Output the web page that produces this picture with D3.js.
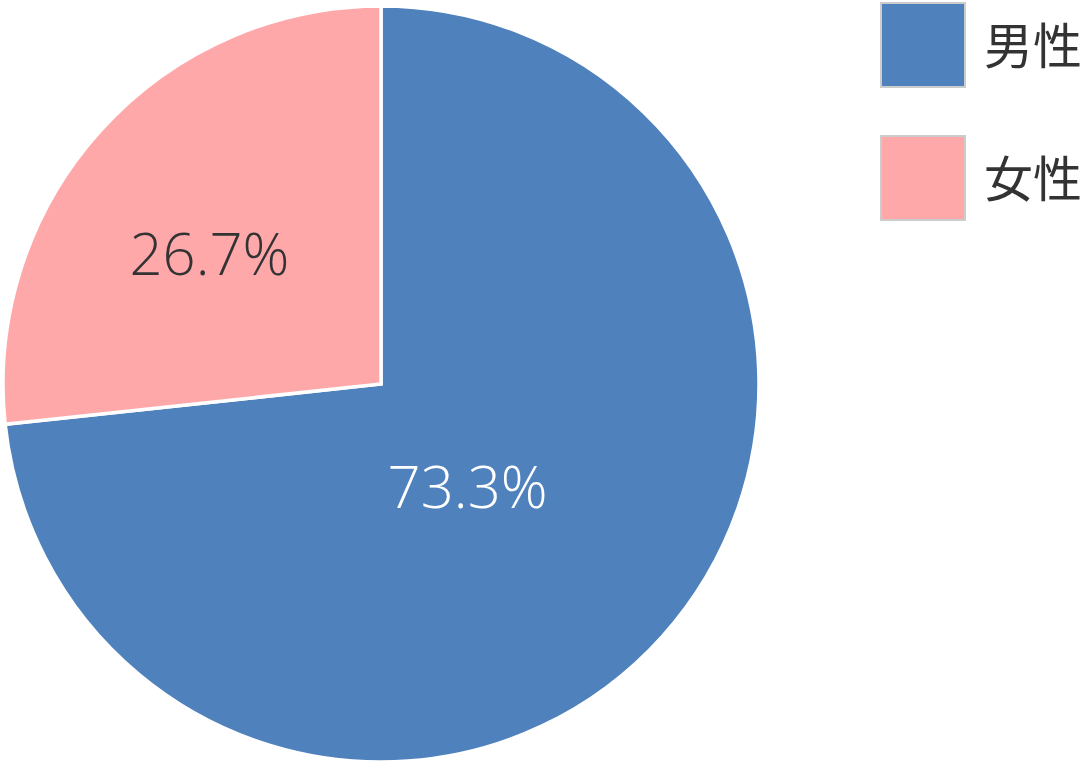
<!DOCTYPE html>
<html>
<head>
<meta charset="utf-8">
<script src="https://cdn.jsdelivr.net/npm/d3@7"></script>
<style>
  html, body { margin: 0; padding: 0; background: #ffffff; }
  svg { display: block; }
</style>
</head>
<body>
<svg id="chart" width="1083" height="767"></svg>
<script>
const categories = ["男性", "女性"];
const values = [73.3, 26.7];
const labels = ["73.3%", "26.7%"];
const colors = ["#4F81BD", "#FFA8AA"];
const labelColors = ["#ffffff", "#333333"];

const svg = d3.select("#chart");
const cx = 381, cy = 384, radius = 378;

const pie = d3.pie().sort(null).value(d => d)
  .startAngle(0).endAngle(2 * Math.PI);
const arcs = pie(values);
const arc = d3.arc().innerRadius(0).outerRadius(radius);

const g = svg.append("g").attr("transform", `translate(${cx},${cy})`);

g.selectAll("path.slice")
  .data(arcs)
  .enter().append("path")
  .attr("class", "slice")
  .attr("d", arc)
  .attr("fill", (d, i) => colors[i])
  .attr("stroke", "#ffffff")
  .attr("stroke-width", 3.5)
  .attr("stroke-linejoin", "miter");

// label placement: arc centroid at half radius, with small nudges
const labelArc = d3.arc().innerRadius(radius * 0.5).outerRadius(radius * 0.5);
const nudge = [[-54, -23], [-31, -4]];
g.selectAll("text.lbl")
  .data(arcs)
  .enter().append("text")
  .attr("class", "lbl")
  .attr("transform", (d, i) => {
    const c = labelArc.centroid(d);
    return `translate(${c[0] + nudge[i][0]},${c[1] + nudge[i][1]})`;
  })
  .attr("text-anchor", "middle")
  .attr("dy", "0.36em")
  .attr("font-family", "'Open Sans', 'Noto Sans', sans-serif")
  .attr("font-weight", 350)
  .attr("font-size", 58)
  .attr("fill", (d, i) => labelColors[i])
  .text((d, i) => labels[i]);

// legend
const legend = svg.append("g");
const items = legend.selectAll("g.item")
  .data(categories)
  .enter().append("g")
  .attr("class", "item")
  .attr("transform", (d, i) => `translate(881,${3 + i * 133})`);

items.append("rect")
  .attr("width", 84)
  .attr("height", 84)
  .attr("fill", (d, i) => colors[i])
  .attr("stroke", "#cccccc")
  .attr("stroke-width", 2);

items.append("text")
  .attr("x", 103)
  .attr("y", 61)
  .attr("font-family", "'Noto Sans CJK JP', 'Noto Sans CJK SC', sans-serif")
  .attr("font-size", 49)
  .attr("fill", "#333333")
  .text(d => d);
</script>
</body>
</html>
